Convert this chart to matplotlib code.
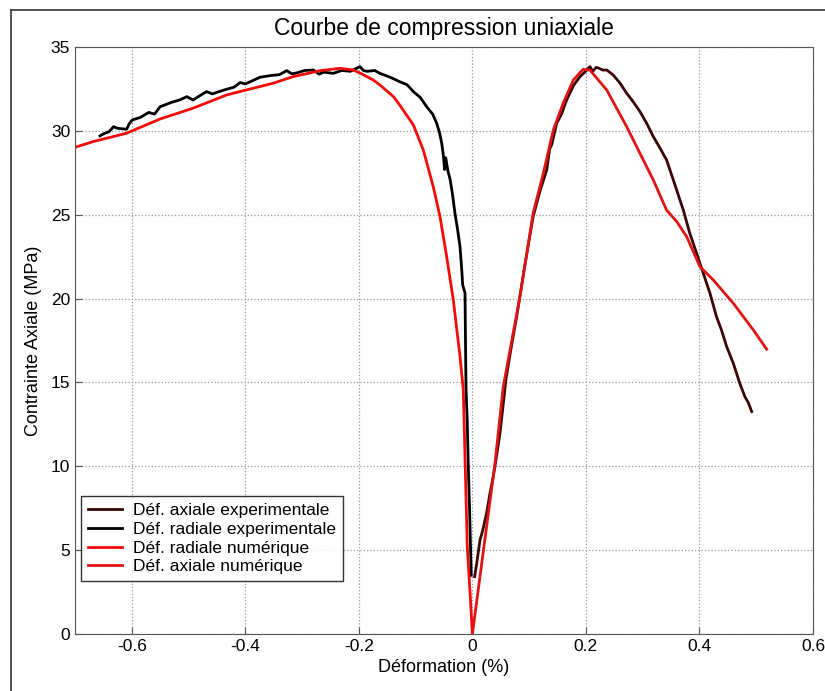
import matplotlib
matplotlib.use("Agg")
import matplotlib.pyplot as plt
from matplotlib.lines import Line2D

plt.rcParams['font.family'] = ['Liberation Sans', 'DejaVu Sans']

# Déformation axiale expérimentale (%), contrainte (MPa)
axial_exp_x = [0.004, 0.008, 0.0134, 0.016, 0.019, 0.025, 0.031, 0.0368, 0.043, 0.0486, 0.054,
               0.059, 0.068, 0.078, 0.092, 0.107, 0.119, 0.131, 0.136, 0.140, 0.1485, 0.157,
               0.166, 0.178, 0.1895, 0.198, 0.207, 0.212, 0.218, 0.222, 0.230, 0.2366, 0.248,
               0.260, 0.2718, 0.283, 0.2952, 0.307, 0.3187, 0.330, 0.342, 0.354, 0.3715,
               0.383, 0.395, 0.4067, 0.4185, 0.430, 0.439, 0.448, 0.4596, 0.471, 0.480,
               0.486, 0.492]
axial_exp_y = [3.42, 4.3, 5.6, 5.9, 6.3, 7.2, 8.4, 9.38, 10.7, 11.97, 13.6,
               15.15, 17.0, 18.92, 21.9, 24.88, 26.4, 27.67, 28.9, 29.2, 30.45, 31.0,
               31.84, 32.7, 33.23, 33.5, 33.83, 33.55, 33.78, 33.75, 33.62, 33.63, 33.33,
               32.85, 32.24, 31.75, 31.15, 30.45, 29.66, 29.0, 28.27, 27.07, 25.28,
               23.89, 22.7, 21.51, 20.32, 18.92, 18.1, 17.13, 16.14, 14.95, 14.15,
               13.8, 13.26]

# Déformation radiale expérimentale
radial_exp_x = [-0.656, -0.648, -0.640, -0.632, -0.625, -0.609, -0.604, -0.599, -0.585, -0.570,
                -0.560, -0.550, -0.530, -0.515, -0.503, -0.492, -0.480, -0.468, -0.458, -0.450,
                -0.433, -0.420, -0.409, -0.400, -0.390, -0.374, -0.355, -0.340, -0.327, -0.318,
                -0.310, -0.295, -0.280, -0.270, -0.262, -0.245, -0.230, -0.215, -0.198, -0.192,
                -0.185, -0.172, -0.163, -0.145, -0.128, -0.115, -0.104, -0.092, -0.0805, -0.070,
                -0.0629, -0.058, -0.054, -0.051, -0.049, -0.047, -0.043, -0.039, -0.035,
                -0.0307, -0.026, -0.0218, -0.0185, -0.0171, -0.013, -0.0113, -0.009, -0.0072,
                -0.005, -0.003, -0.002]
radial_exp_y = [29.7, 29.85, 29.95, 30.25, 30.15, 30.1, 30.45, 30.65, 30.8, 31.1,
                31.0, 31.44, 31.7, 31.85, 32.04, 31.84, 32.1, 32.34, 32.2, 32.3,
                32.48, 32.6, 32.88, 32.8, 32.95, 33.2, 33.3, 33.35, 33.59, 33.4,
                33.45, 33.6, 33.63, 33.38, 33.5, 33.43, 33.6, 33.55, 33.83, 33.6,
                33.55, 33.6, 33.43, 33.2, 32.93, 32.75, 32.34, 32.0, 31.44, 31.0,
                30.45, 29.9, 29.26, 28.5, 27.7, 28.4, 27.6, 27.07, 26.2,
                25.09, 24.1, 23.1, 21.6, 20.81, 20.33, 14.75, 12.6, 10.0,
                7.5, 4.8, 3.5]

# Déformation radiale numérique
radial_num_x = [-0.700, -0.668, -0.609, -0.550, -0.492, -0.433, -0.398, -0.351, -0.316, -0.268,
                -0.233, -0.210, -0.198, -0.175, -0.163, -0.139, -0.128, -0.104, -0.0865,
                -0.0689, -0.057, -0.0453, -0.0336, -0.0218, -0.016, -0.009, -0.004, 0.0]
radial_num_y = [29.02, 29.36, 29.86, 30.71, 31.35, 32.14, 32.44, 32.84, 33.23, 33.59,
                33.73, 33.63, 33.45, 33.04, 32.74, 32.04, 31.54, 30.35, 28.86,
                26.67, 24.88, 22.5, 19.92, 16.54, 14.55, 5.2, 2.4, 0.0]

# Déformation axiale numérique
axial_num_x = [0.0, 0.0398, 0.0544, 0.0838, 0.107, 0.125, 0.1425, 0.160, 0.178, 0.195, 0.204,
               0.207, 0.2366, 0.2718, 0.2952, 0.3187, 0.342, 0.360, 0.3775, 0.401, 0.4243,
               0.4596, 0.4948, 0.5184]
axial_num_y = [0.0, 10.18, 14.75, 20.12, 25.09, 27.47, 30.05, 31.65, 33.04, 33.67, 33.63,
               33.63, 32.44, 30.25, 28.66, 27.07, 25.28, 24.59, 23.69, 21.9, 21.11,
               19.72, 18.13, 16.98]

fig = plt.figure(figsize=(8.25, 6.91), dpi=100)
ax = fig.add_axes([75 / 825, 57 / 691, 738 / 825, 587 / 691])

ax.plot(axial_exp_x, axial_exp_y, color='#3a0606', lw=2.0, label='Déf. axiale experimentale')
ax.plot(radial_exp_x, radial_exp_y, color='black', lw=2.0, label='Déf. radiale experimentale')
ax.plot(radial_num_x, radial_num_y, color='#f50a0a', lw=2.0, label='Déf. radiale numérique')
ax.plot(axial_num_x, axial_num_y, color='#e01414', lw=2.0, label='Déf. axiale numérique')

ax.set_xlim(-0.7, 0.6)
ax.set_ylim(0, 35)
ax.set_xticks([-0.6, -0.4, -0.2, 0, 0.2, 0.4, 0.6])
ax.set_xticklabels(['-0.6', '-0.4', '-0.2', '0', '0.2', '0.4', '0.6'])
ax.set_yticks(range(0, 36, 5))
ax.grid(True, linestyle=':', color='#999999', lw=0.9)
ax.tick_params(direction='in', length=5, colors='#555555', labelcolor='black', labelsize=12.5)
for s in ax.spines.values():
    s.set_color('#555555')

ax.set_title('Courbe de compression uniaxiale', fontsize=16.5, pad=9)
ax.set_xlabel('Déformation (%)', fontsize=13, labelpad=4)
ax.set_ylabel('Contrainte Axiale (MPa)', fontsize=13, labelpad=6)

leg = ax.legend(loc='lower left', bbox_to_anchor=(0.0077, 0.09), fontsize=12.5,
                frameon=True, fancybox=False, borderaxespad=0, handlelength=2,
                labelspacing=0.2, borderpad=0.4, handletextpad=0.6)
leg.get_frame().set_edgecolor('black')
leg.get_frame().set_linewidth(1.0)

# cadre autour de la figure
fig.add_artist(Line2D([11 / 825, 11 / 825], [0, 1 - 10 / 691], color='#333333', lw=1.2))
fig.add_artist(Line2D([11 / 825, 1], [1 - 10 / 691, 1 - 10 / 691], color='#333333', lw=1.2))

fig.savefig('out.png', dpi=100)
